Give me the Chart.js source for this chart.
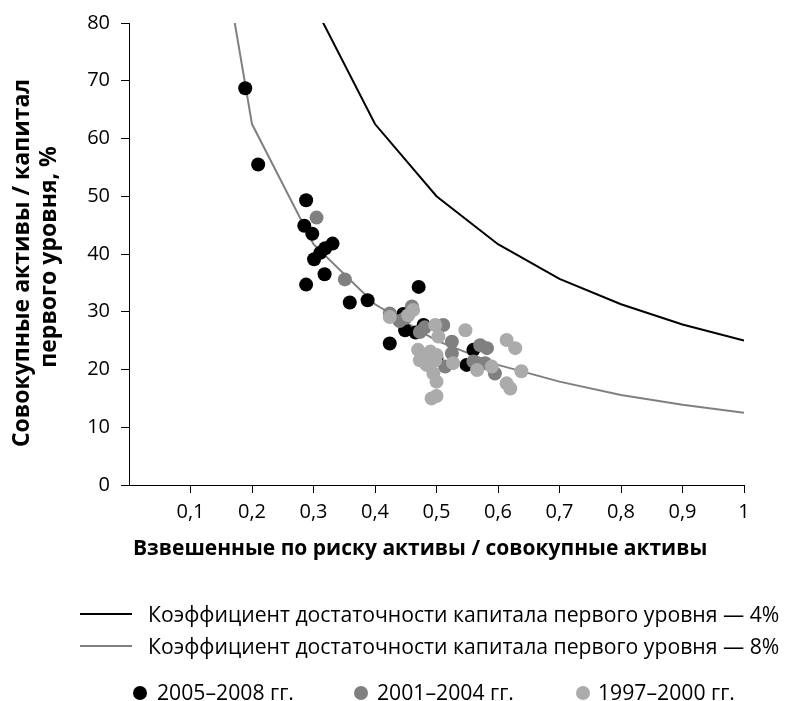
<!DOCTYPE html>
<html>
<head>
<meta charset="utf-8">
<script src="https://cdn.jsdelivr.net/npm/chart.js@4.4.0/dist/chart.umd.min.js"></script>
<style>
  body { margin: 0; background: #fff; font-family: "Open Sans", sans-serif; }
  #wrap { position: relative; width: 786px; height: 701px; }
  .leg { position: absolute; font-size: 21.2px; line-height: 24px; color: #000; white-space: nowrap; }
  .swatch { position: absolute; width: 52px; height: 2px; }
  .dot { position: absolute; width: 14px; height: 14px; border-radius: 50%; }
</style>
</head>
<body>
<div id="wrap">
  <canvas id="chart" width="786" height="701"></canvas>

  <div class="swatch" style="left:80px; top:613px; background:#000;"></div>
  <div class="leg" style="left:148px; top:602px;">Коэффициент достаточности капитала первого уровня — 4%</div>
  <div class="swatch" style="left:80px; top:645px; background:#808080;"></div>
  <div class="leg" style="left:148px; top:634px;">Коэффициент достаточности капитала первого уровня — 8%</div>

  <div class="dot" style="left:133px; top:686px; background:#000;"></div>
  <div class="leg" style="left:157px; top:680px;">2005–2008 гг.</div>
  <div class="dot" style="left:354px; top:686px; background:#808080;"></div>
  <div class="leg" style="left:377px; top:680px;">2001–2004 гг.</div>
  <div class="dot" style="left:576px; top:686px; background:#ababab;"></div>
  <div class="leg" style="left:598px; top:680px;">1997–2000 гг.</div>
</div>

<script>
// x = взвешенные по риску активы / совокупные активы, y = совокупные активы / капитал, %
var ratio_x = [0.1, 0.2, 0.3, 0.4, 0.5, 0.6, 0.7, 0.8, 0.9, 1.0];
var tier1_4 = [250, 125, 83.3, 62.5, 50, 41.7, 35.7, 31.3, 27.8, 25];
var tier1_8 = [125, 62.5, 41.7, 31.3, 25, 20.8, 17.9, 15.6, 13.9, 12.5];

var y2005_x = [0.189, 0.210, 0.288, 0.285, 0.298, 0.331, 0.319, 0.311, 0.301, 0.318, 0.288,
               0.359, 0.388, 0.471, 0.424, 0.446, 0.449, 0.466, 0.479, 0.500, 0.560, 0.549];
var y2005_y = [68.7, 55.5, 49.3, 44.9, 43.5, 41.8, 41.0, 40.2, 39.1, 36.5, 34.7,
               31.6, 32.0, 34.3, 24.5, 29.6, 26.8, 26.4, 27.7, 22.0, 23.4, 20.8];

var y2001_x = [0.305, 0.351, 0.424, 0.440, 0.449, 0.460, 0.473, 0.481, 0.511, 0.525, 0.525,
               0.514, 0.571, 0.582, 0.560, 0.579, 0.595];
var y2001_y = [46.3, 35.6, 29.7, 28.4, 28.9, 30.9, 26.5, 27.3, 27.7, 24.8, 22.8,
               20.5, 24.2, 23.7, 21.4, 21.1, 19.3];

var y1997_x = [0.424, 0.454, 0.462, 0.498, 0.547, 0.503, 0.470, 0.490, 0.473, 0.498, 0.484,
               0.500, 0.527, 0.495, 0.500, 0.492, 0.500, 0.566, 0.590, 0.614, 0.628, 0.638,
               0.614, 0.620, 0.480];
var y1997_y = [29.1, 29.4, 30.3, 27.7, 26.8, 25.7, 23.4, 23.1, 21.6, 21.6, 20.8,
               22.5, 21.1, 19.3, 17.9, 15.0, 15.4, 19.9, 20.5, 25.1, 23.7, 19.7,
               17.6, 16.7, 22.4];

var x_ticks = [0.1, 0.2, 0.3, 0.4, 0.5, 0.6, 0.7, 0.8, 0.9, 1];

function pts(xs, ys) {
    return xs.map(function (x, i) { return {x: x, y: ys[i]}; });
}

function fmt(v) {
    if (v === 0) return '';
    return String(Math.round(v * 10) / 10).replace('.', ',');
}

var nb = '\u00a0';

var ctx = document.getElementById('chart');
new Chart(ctx, {
    type: 'scatter',
    data: {
        datasets: [
            {label: '1997–2000 гг.', data: pts(y1997_x, y1997_y), backgroundColor: '#ababab',
             pointRadius: 7, borderWidth: 0, order: 1},
            {label: '2001–2004 гг.', data: pts(y2001_x, y2001_y), backgroundColor: '#808080',
             pointRadius: 7, borderWidth: 0, order: 2},
            {label: '2005–2008 гг.', data: pts(y2005_x, y2005_y), backgroundColor: '#000',
             pointRadius: 7, borderWidth: 0, order: 3},
            {label: '8%', data: pts(ratio_x, tier1_8), showLine: true, borderColor: '#808080',
             borderWidth: 2, pointRadius: 0, order: 4},
            {label: '4%', data: pts(ratio_x, tier1_4), showLine: true, borderColor: '#000',
             borderWidth: 2, pointRadius: 0, order: 5}
        ]
    },
    options: {
        responsive: false,
        animation: false,
        layout: {padding: {left: 0, top: 23, right: 42, bottom: 138}},
        plugins: {legend: {display: false}, tooltip: {enabled: false}},
        scales: {
            x: {
                type: 'linear', min: 0, max: 1,
                afterBuildTicks: function (scale) {
                    scale.ticks = [{value: 0}].concat(x_ticks.map(function (v) { return {value: v}; }));
                },
                afterFit: function (scale) { scale.height = 78; },
                ticks: {
                    color: '#000', padding: 7, maxRotation: 0, autoSkip: false,
                    font: {family: 'Open Sans', size: 20},
                    callback: function (v) { return fmt(v); }
                },
                grid: {
                    drawOnChartArea: false, drawTicks: true, tickLength: 8,
                    tickColor: function (c) { return c.index === 0 ? 'rgba(0,0,0,0)' : '#000'; }
                },
                border: {color: '#000', width: 1},
                title: {
                    display: true,
                    text: 'Взвешенные по риску активы / совокупные активы' + nb.repeat(6),
                    color: '#000', padding: {top: 0, bottom: 0},
                    font: {family: 'Open Sans', size: 21, weight: 'bold', lineHeight: '28px'}
                }
            },
            y: {
                min: 0, max: 80,
                afterFit: function (scale) { scale.width = 129; },
                ticks: {
                    stepSize: 10, color: '#000', padding: 11,
                    font: {family: 'Open Sans', size: 20}
                },
                grid: {drawOnChartArea: false, drawTicks: true, tickLength: 8, tickColor: '#000'},
                border: {color: '#000', width: 1},
                title: {
                    display: true,
                    text: ['Совокупные активы / капитал' + nb.repeat(3), 'первого уровня, %' + nb],
                    color: '#000', padding: {top: 9, bottom: 0},
                    font: {family: 'Open Sans', size: 23, weight: 'bold', lineHeight: '27px'}
                }
            }
        }
    }
});
</script>
</body>
</html>
